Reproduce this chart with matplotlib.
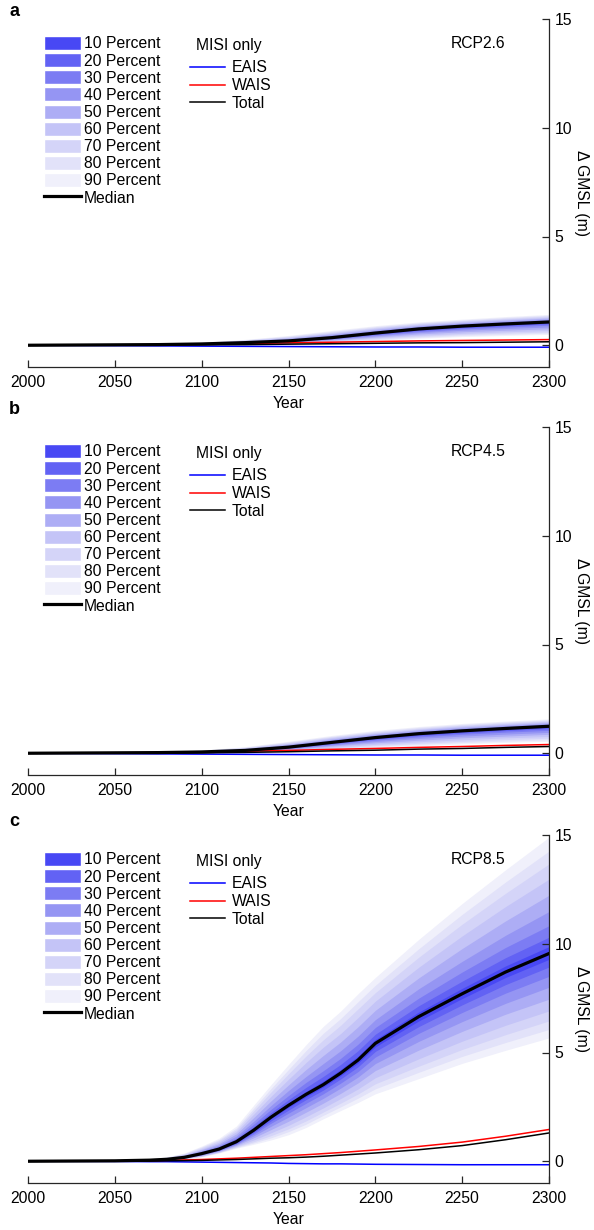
import matplotlib.pyplot as plt
from matplotlib.patches import Patch
from matplotlib.lines import Line2D

plt.rcParams['font.family'] = ['Liberation Sans', 'DejaVu Sans']
plt.rcParams['font.size'] = 11.3

scenarios = ['RCP2.6', 'RCP4.5', 'RCP8.5']
panel_tags = ['a', 'b', 'c']

percent_labels = ['10 Percent', '20 Percent', '30 Percent', '40 Percent', '50 Percent',
                  '60 Percent', '70 Percent', '80 Percent', '90 Percent']
band_colors = ['#4848f4', '#6262f4', '#7c7cf3', '#9595f3', '#adadf5',
               '#c4c4f7', '#d4d4f8', '#e2e2f9', '#f0f0fb']
misi_labels = ['EAIS', 'WAIS', 'Total']
misi_colors = ['#0000ff', '#ff0000', '#000000']

# GMSL quantiles (m); bands ordered 10% ... 90% (inner to outer)
rcp26_years = [2000, 2025, 2050, 2075, 2100, 2125, 2150, 2175, 2200, 2225, 2250, 2275, 2300]
rcp26_median = [0, 0.01, 0.02, 0.03, 0.06, 0.12, 0.20, 0.35, 0.56, 0.75, 0.88, 0.98, 1.07]
rcp26_lower = [
    [0, 0.01, 0.02, 0.03, 0.06, 0.12, 0.19, 0.34, 0.54, 0.72, 0.85, 0.94, 1.03],
    [0, 0.01, 0.02, 0.03, 0.06, 0.11, 0.18, 0.32, 0.51, 0.68, 0.80, 0.90, 0.98],
    [0, 0.01, 0.02, 0.03, 0.05, 0.10, 0.17, 0.30, 0.47, 0.63, 0.75, 0.84, 0.92],
    [0, 0.01, 0.02, 0.03, 0.05, 0.09, 0.15, 0.27, 0.43, 0.58, 0.69, 0.77, 0.84],
    [0, 0.00, 0.01, 0.02, 0.04, 0.08, 0.14, 0.24, 0.38, 0.52, 0.62, 0.69, 0.76],
    [0, 0.00, 0.01, 0.02, 0.04, 0.07, 0.12, 0.21, 0.34, 0.46, 0.55, 0.62, 0.68],
    [0, 0.00, 0.01, 0.02, 0.04, 0.06, 0.10, 0.19, 0.30, 0.41, 0.50, 0.56, 0.61],
    [0, 0.00, 0.01, 0.02, 0.03, 0.06, 0.09, 0.17, 0.26, 0.36, 0.45, 0.50, 0.56],
    [0, 0.00, 0.01, 0.02, 0.03, 0.05, 0.08, 0.15, 0.23, 0.32, 0.40, 0.45, 0.50],
]
rcp26_upper = [
    [0, 0.01, 0.02, 0.03, 0.06, 0.13, 0.22, 0.37, 0.58, 0.77, 0.90, 1.00, 1.09],
    [0, 0.01, 0.02, 0.04, 0.07, 0.14, 0.24, 0.40, 0.61, 0.80, 0.92, 1.03, 1.12],
    [0, 0.01, 0.02, 0.04, 0.08, 0.16, 0.26, 0.43, 0.64, 0.83, 0.96, 1.06, 1.15],
    [0, 0.01, 0.03, 0.04, 0.09, 0.17, 0.29, 0.47, 0.68, 0.87, 1.00, 1.10, 1.20],
    [0, 0.02, 0.03, 0.05, 0.10, 0.20, 0.33, 0.52, 0.73, 0.91, 1.04, 1.15, 1.25],
    [0, 0.02, 0.03, 0.06, 0.11, 0.22, 0.36, 0.56, 0.78, 0.96, 1.09, 1.20, 1.29],
    [0, 0.02, 0.04, 0.06, 0.12, 0.24, 0.39, 0.60, 0.82, 1.00, 1.13, 1.24, 1.34],
    [0, 0.02, 0.04, 0.07, 0.13, 0.25, 0.42, 0.64, 0.86, 1.03, 1.16, 1.28, 1.38],
    [0, 0.02, 0.04, 0.07, 0.14, 0.27, 0.45, 0.68, 0.90, 1.07, 1.20, 1.32, 1.42],
]
rcp26_eais = [0, -0.01, -0.02, -0.03, -0.04, -0.05, -0.06, -0.07, -0.08, -0.08, -0.09, -0.09, -0.09]
rcp26_wais = [0, 0.01, 0.02, 0.03, 0.05, 0.08, 0.11, 0.14, 0.17, 0.20, 0.22, 0.24, 0.26]
rcp26_total = [0, 0.00, 0.00, 0.01, 0.02, 0.03, 0.05, 0.07, 0.09, 0.11, 0.12, 0.14, 0.16]

rcp45_years = [2000, 2025, 2050, 2075, 2100, 2125, 2150, 2175, 2200, 2225, 2250, 2275, 2300]
rcp45_median = [0, 0.01, 0.02, 0.03, 0.06, 0.13, 0.28, 0.50, 0.72, 0.90, 1.03, 1.14, 1.24]
rcp45_lower = [
    [0, 0.01, 0.02, 0.03, 0.06, 0.12, 0.27, 0.48, 0.69, 0.86, 0.99, 1.10, 1.19],
    [0, 0.01, 0.02, 0.03, 0.06, 0.12, 0.25, 0.45, 0.65, 0.81, 0.93, 1.04, 1.13],
    [0, 0.01, 0.02, 0.03, 0.05, 0.11, 0.23, 0.41, 0.60, 0.75, 0.87, 0.97, 1.05],
    [0, 0.01, 0.02, 0.03, 0.05, 0.10, 0.21, 0.37, 0.54, 0.68, 0.79, 0.88, 0.96],
    [0, 0.00, 0.01, 0.02, 0.04, 0.09, 0.18, 0.33, 0.48, 0.60, 0.71, 0.79, 0.87],
    [0, 0.00, 0.01, 0.02, 0.04, 0.08, 0.16, 0.28, 0.41, 0.53, 0.62, 0.71, 0.77],
    [0, 0.00, 0.01, 0.02, 0.04, 0.07, 0.14, 0.24, 0.36, 0.46, 0.55, 0.63, 0.69],
    [0, 0.00, 0.01, 0.02, 0.03, 0.06, 0.12, 0.21, 0.32, 0.41, 0.49, 0.56, 0.62],
    [0, 0.00, 0.01, 0.02, 0.03, 0.05, 0.10, 0.18, 0.27, 0.35, 0.43, 0.50, 0.55],
]
rcp45_upper = [
    [0, 0.01, 0.02, 0.03, 0.07, 0.14, 0.30, 0.52, 0.74, 0.92, 1.05, 1.16, 1.26],
    [0, 0.01, 0.02, 0.04, 0.07, 0.15, 0.32, 0.54, 0.77, 0.95, 1.08, 1.19, 1.29],
    [0, 0.01, 0.02, 0.04, 0.08, 0.17, 0.35, 0.58, 0.80, 0.98, 1.11, 1.22, 1.32],
    [0, 0.01, 0.03, 0.04, 0.09, 0.19, 0.38, 0.62, 0.84, 1.02, 1.15, 1.26, 1.36],
    [0, 0.02, 0.03, 0.05, 0.11, 0.22, 0.42, 0.66, 0.89, 1.07, 1.20, 1.31, 1.41],
    [0, 0.02, 0.03, 0.06, 0.12, 0.24, 0.45, 0.71, 0.93, 1.11, 1.25, 1.36, 1.46],
    [0, 0.02, 0.04, 0.06, 0.13, 0.26, 0.49, 0.75, 0.97, 1.15, 1.29, 1.40, 1.50],
    [0, 0.02, 0.04, 0.07, 0.14, 0.28, 0.52, 0.78, 1.01, 1.19, 1.33, 1.44, 1.54],
    [0, 0.02, 0.04, 0.07, 0.15, 0.30, 0.55, 0.82, 1.05, 1.23, 1.37, 1.48, 1.58],
]
rcp45_eais = [0, -0.01, -0.02, -0.03, -0.04, -0.05, -0.06, -0.07, -0.08, -0.08, -0.09, -0.09, -0.09]
rcp45_wais = [0, 0.01, 0.02, 0.03, 0.06, 0.09, 0.13, 0.18, 0.22, 0.27, 0.31, 0.36, 0.40]
rcp45_total = [0, 0.00, 0.00, 0.00, 0.02, 0.04, 0.07, 0.11, 0.14, 0.19, 0.22, 0.27, 0.31]

rcp85_years = [2000, 2050, 2070, 2080, 2090, 2100, 2110, 2120, 2130, 2140,
               2150, 2160, 2170, 2180, 2190, 2200, 2225, 2250, 2275, 2300]
rcp85_median = [0, 0.02, 0.05, 0.09, 0.18, 0.35, 0.56, 0.90, 1.43, 2.03,
                2.57, 3.07, 3.52, 4.05, 4.65, 5.42, 6.65, 7.70, 8.70, 9.55]
rcp85_lower = [
    [0, 0.02, 0.05, 0.09, 0.17, 0.34, 0.54, 0.86, 1.38, 1.96, 2.48, 2.96, 3.41, 3.93, 4.51, 5.26, 6.45, 7.48, 8.45, 9.28],
    [0, 0.02, 0.05, 0.08, 0.17, 0.33, 0.52, 0.84, 1.32, 1.86, 2.35, 2.83, 3.27, 3.78, 4.34, 5.05, 6.19, 7.19, 8.12, 8.93],
    [0, 0.02, 0.05, 0.08, 0.16, 0.31, 0.50, 0.80, 1.25, 1.75, 2.21, 2.66, 3.10, 3.59, 4.12, 4.79, 5.88, 6.84, 7.73, 8.50],
    [0, 0.02, 0.04, 0.07, 0.15, 0.29, 0.48, 0.77, 1.17, 1.61, 2.03, 2.46, 2.89, 3.36, 3.87, 4.49, 5.51, 6.42, 7.26, 8.00],
    [0, 0.02, 0.04, 0.07, 0.14, 0.27, 0.46, 0.73, 1.08, 1.46, 1.84, 2.25, 2.67, 3.12, 3.60, 4.17, 5.11, 5.97, 6.76, 7.45],
    [0, 0.01, 0.04, 0.06, 0.13, 0.25, 0.43, 0.69, 0.98, 1.31, 1.65, 2.04, 2.45, 2.88, 3.32, 3.84, 4.71, 5.52, 6.25, 6.91],
    [0, 0.01, 0.03, 0.06, 0.12, 0.23, 0.41, 0.66, 0.90, 1.18, 1.49, 1.85, 2.26, 2.67, 3.09, 3.56, 4.37, 5.14, 5.82, 6.45],
    [0, 0.01, 0.03, 0.05, 0.11, 0.22, 0.40, 0.63, 0.84, 1.08, 1.36, 1.70, 2.11, 2.50, 2.90, 3.33, 4.09, 4.82, 5.46, 6.06],
    [0, 0.01, 0.03, 0.05, 0.10, 0.20, 0.38, 0.60, 0.78, 0.98, 1.22, 1.55, 1.95, 2.33, 2.70, 3.10, 3.80, 4.50, 5.10, 5.67],
]
rcp85_upper = [
    [0, 0.02, 0.05, 0.10, 0.19, 0.37, 0.59, 0.94, 1.50, 2.12, 2.68, 3.21, 3.68, 4.22, 4.83, 5.60, 6.86, 7.95, 8.98, 9.87],
    [0, 0.02, 0.06, 0.11, 0.21, 0.40, 0.63, 1.00, 1.59, 2.24, 2.83, 3.39, 3.90, 4.45, 5.08, 5.84, 7.15, 8.28, 9.36, 10.30],
    [0, 0.03, 0.07, 0.12, 0.23, 0.43, 0.68, 1.07, 1.71, 2.39, 3.02, 3.62, 4.16, 4.73, 5.38, 6.15, 7.50, 8.70, 9.83, 10.83],
    [0, 0.03, 0.08, 0.13, 0.25, 0.48, 0.74, 1.16, 1.84, 2.57, 3.25, 3.89, 4.49, 5.08, 5.75, 6.51, 7.93, 9.19, 10.39, 11.48],
    [0, 0.04, 0.09, 0.15, 0.28, 0.53, 0.81, 1.26, 2.01, 2.78, 3.51, 4.21, 4.86, 5.48, 6.18, 6.94, 8.43, 9.78, 11.05, 12.23],
    [0, 0.04, 0.10, 0.16, 0.31, 0.57, 0.88, 1.36, 2.17, 2.99, 3.77, 4.53, 5.24, 5.87, 6.60, 7.36, 8.92, 10.36, 11.71, 12.97],
    [0, 0.04, 0.10, 0.18, 0.33, 0.62, 0.95, 1.45, 2.32, 3.19, 4.02, 4.83, 5.58, 6.25, 7.00, 7.75, 9.38, 10.90, 12.32, 13.67],
    [0, 0.05, 0.11, 0.19, 0.36, 0.66, 1.00, 1.53, 2.44, 3.35, 4.22, 5.08, 5.88, 6.56, 7.33, 8.09, 9.77, 11.35, 12.84, 14.26],
    [0, 0.05, 0.12, 0.20, 0.38, 0.70, 1.06, 1.62, 2.58, 3.53, 4.45, 5.35, 6.20, 6.90, 7.70, 8.45, 10.20, 11.85, 13.40, 14.90],
]
rcp85_eais = [0, -0.01, -0.02, -0.02, -0.03, -0.04, -0.05, -0.06, -0.07, -0.08,
              -0.10, -0.11, -0.12, -0.12, -0.13, -0.14, -0.15, -0.16, -0.16, -0.16]
rcp85_wais = [0, 0.02, 0.03, 0.04, 0.06, 0.08, 0.11, 0.14, 0.18, 0.22,
              0.26, 0.30, 0.35, 0.40, 0.46, 0.52, 0.68, 0.88, 1.15, 1.46]
rcp85_total = [0, 0.01, 0.01, 0.02, 0.03, 0.04, 0.06, 0.08, 0.11, 0.14,
               0.16, 0.19, 0.23, 0.28, 0.33, 0.38, 0.53, 0.72, 0.99, 1.30]

panels = [
    (rcp26_years, rcp26_median, rcp26_lower, rcp26_upper, [rcp26_eais, rcp26_wais, rcp26_total]),
    (rcp45_years, rcp45_median, rcp45_lower, rcp45_upper, [rcp45_eais, rcp45_wais, rcp45_total]),
    (rcp85_years, rcp85_median, rcp85_lower, rcp85_upper, [rcp85_eais, rcp85_wais, rcp85_total]),
]

W, H = 594, 1230
fig = plt.figure(figsize=(W / 100, H / 100), dpi=100)
axes_top_px = [19, 427, 835]
tag_y_px = [12, 410, 822]
ax_h_px = 348
ax_left_px, ax_w_px = 28, 521
spine_col = '#262626'

for i, (yrs, median, lower, upper, misi) in enumerate(panels):
    top = axes_top_px[i]
    ax = fig.add_axes([ax_left_px / W, 1 - (top + ax_h_px) / H, ax_w_px / W, ax_h_px / H])

    # widest band first so the narrow ones sit on top
    for k in range(len(band_colors) - 1, -1, -1):
        ax.fill_between(yrs, lower[k], upper[k], color=band_colors[k], lw=0, zorder=1)
    for vals, col in zip(misi, misi_colors):
        ax.plot(yrs, vals, color=col, lw=1.1, zorder=2)
    ax.plot(yrs, median, color='black', lw=2.3, zorder=3, solid_joinstyle='round')

    ax.set_xlim(2000, 2300)
    ax.set_ylim(-1, 15)
    ax.set_xticks(range(2000, 2301, 50))
    ax.set_yticks([0, 5, 10, 15])
    ax.yaxis.tick_right()
    ax.yaxis.set_label_position('right')
    for side in ['top', 'left']:
        ax.spines[side].set_visible(False)
    for side in ['bottom', 'right']:
        ax.spines[side].set_color(spine_col)
        ax.spines[side].set_linewidth(0.9)
    ax.tick_params(axis='x', direction='in', length=5, width=0.9, color=spine_col, pad=6)
    ax.tick_params(axis='y', direction='in', length=5, width=0.9, color=spine_col, pad=4)
    ax.set_xlabel('Year', labelpad=4)
    ax.set_ylabel('\u0394 GMSL (m)', rotation=270, labelpad=12)

    handles = [Patch(facecolor=c, edgecolor='white', linewidth=1.0) for c in band_colors]
    handles.append(Line2D([], [], color='black', lw=2.3))
    leg1 = ax.legend(handles, percent_labels + ['Median'], loc='upper left',
                     bbox_to_anchor=(0.031, 0.951), frameon=False, handlelength=2.35,
                     handleheight=1.0, handletextpad=0.2, labelspacing=0.11,
                     borderpad=0, borderaxespad=0)
    ax.add_artist(leg1)

    misi_handles = [Line2D([], [], color=c, lw=1.1) for c in misi_colors]
    ax.legend(misi_handles, misi_labels, loc='upper left',
              bbox_to_anchor=(0.311, 0.881), frameon=False, handlelength=2.2,
              handletextpad=0.45, labelspacing=0.17, borderpad=0, borderaxespad=0)
    ax.text(0.386, 0.925, 'MISI only', transform=ax.transAxes, ha='center', va='center')

    ax.text(0.916, 0.952, scenarios[i], transform=ax.transAxes, ha='right', va='top')
    fig.text(9 / W, 1 - tag_y_px[i] / H, panel_tags[i], weight='bold', fontsize=13, va='center')

fig.savefig('out.png', dpi=100)
